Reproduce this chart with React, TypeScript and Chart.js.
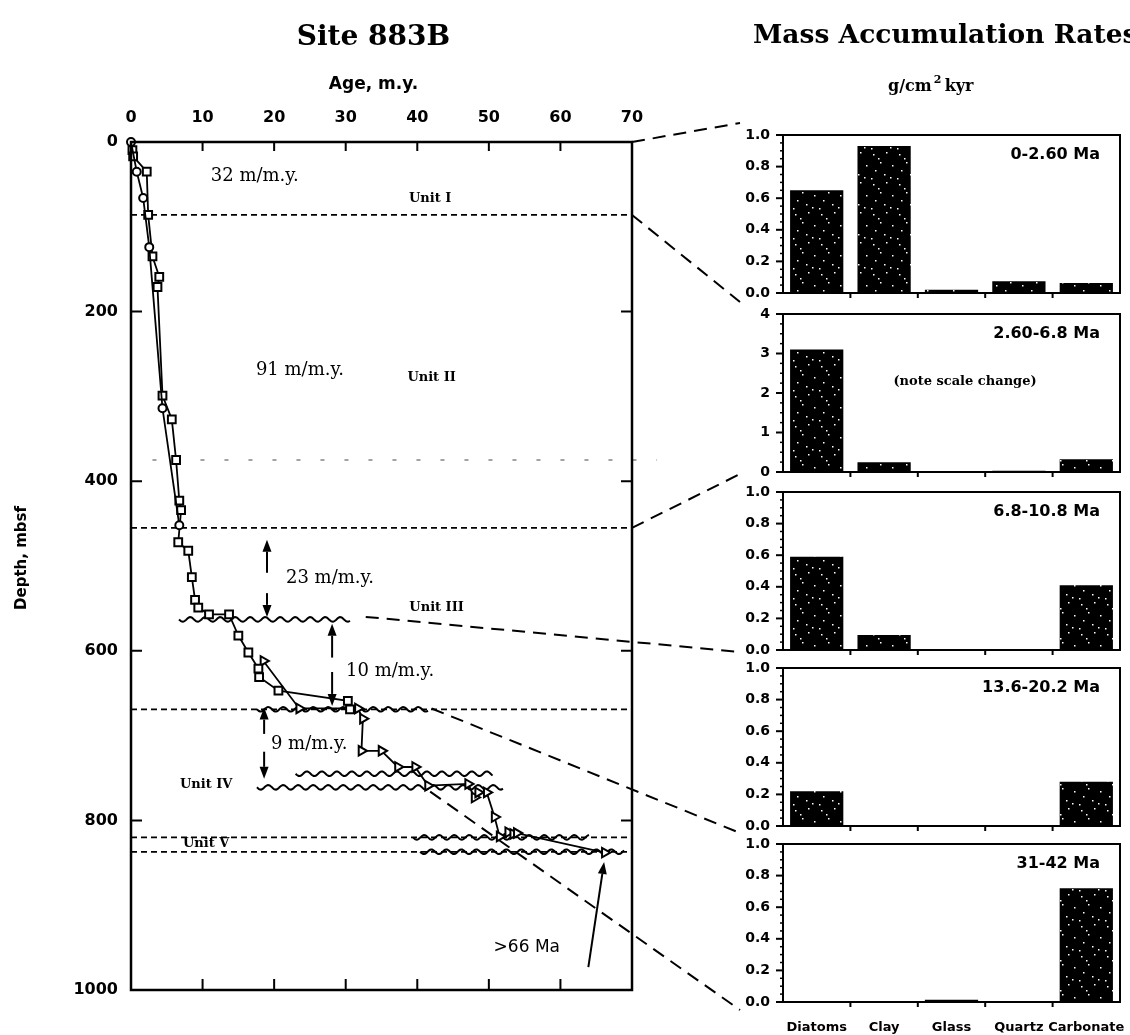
import React, { useEffect, useRef } from 'react';
import { Chart, registerables } from 'chart.js';

Chart.register(...registerables);

// ---- Site 883B age–depth control points (age in m.y., depth in mbsf) ----
const circleAges = [0, 0.8, 1.7, 2.55, 4.4, 6.75];
const circleDepths = [0, 35, 66, 124, 314, 452];

const squareAges = [0.2, 0.3, 2.2, 2.4, 3.0, 3.95, 3.7, 4.4, 5.7, 6.3, 6.75, 7.0, 6.6, 8.0, 8.5, 8.95, 9.4, 10.9, 13.7, 15.0, 16.4, 17.8, 17.9, 20.6, 30.3, 30.6];
const squareDepths = [9.5, 17, 35, 86, 135, 159, 171, 299, 327, 375, 423, 434, 472, 482, 513, 540, 549, 557, 557, 582, 602, 621, 631, 647, 659, 669];

const triangleAges = [18.5, 23.5, 31.7, 32.4, 32.2, 35.0, 37.3, 39.7, 41.5, 47.1, 48.0, 48.5, 49.7, 50.8, 51.5, 52.7, 53.4, 53.9, 66.2];
const triangleDepths = [612, 668, 668, 680, 718, 718, 737, 737, 759, 757, 773, 767, 767, 796, 819, 814, 816, 815, 838];

const ageTicks = [0, 10, 20, 30, 40, 50, 60, 70];
const depthTicks = [0, 200, 400, 600, 800, 1000];

// ---- Mass accumulation rates, g/cm2 kyr ----
const components = ['Diatoms', 'Clay', 'Glass', 'Quartz', 'Carbonate'];
const mar0to260 = [0.65, 0.93, 0.02, 0.075, 0.063];
const mar260to68 = [3.1, 0.25, 0.01, 0.03, 0.32];
const mar68to108 = [0.59, 0.095, 0, 0, 0.41];
const mar136to202 = [0.22, 0.006, 0.005, 0, 0.28];
const mar31to42 = [0, 0, 0.015, 0, 0.72];
const intervalLabels = ['0-2.60 Ma', '2.60-6.8 Ma', '6.8-10.8 Ma', '13.6-20.2 Ma', '31-42 Ma'];
const intervalMax = [1, 4, 1, 1, 1];
const intervalStep = [0.2, 1, 0.2, 0.2, 0.2];

const marSeries = [mar0to260, mar260to68, mar68to108, mar136to202, mar31to42];

// page layout of the small bar panels
const PANEL_LEFT = 740;
const PANEL_AXIS_W = 43;
const PANEL_TOPS = [135, 314, 492, 668, 844];
const PANEL_H = 158;
const PAGE_H = 1035;

const SANS = '"DejaVu Sans"';
const SERIF = '"DejaVu Serif"';

const pts = (ages: number[], depths: number[]) => ages.map((a, k) => ({ x: a, y: depths[k] }));

function wavy(ctx: CanvasRenderingContext2D, x0: number, x1: number, y: number) {
  ctx.beginPath();
  for (let x = x0; x <= x1; x += 1) {
    const yy = y + 2.3 * Math.sin(((x - x0) / 15) * 2 * Math.PI);
    if (x === x0) ctx.moveTo(x, yy);
    else ctx.lineTo(x, yy);
  }
  ctx.stroke();
}

function arrow(ctx: CanvasRenderingContext2D, x0: number, y0: number, x1: number, y1: number) {
  const ang = Math.atan2(y1 - y0, x1 - x0);
  const hl = 12;
  const hw = 4.5;
  const bx = x1 - Math.cos(ang) * hl;
  const by = y1 - Math.sin(ang) * hl;
  ctx.beginPath();
  ctx.moveTo(x0, y0);
  ctx.lineTo(bx, by);
  ctx.stroke();
  ctx.beginPath();
  ctx.moveTo(x1, y1);
  ctx.lineTo(bx + Math.sin(ang) * hw, by - Math.cos(ang) * hw);
  ctx.lineTo(bx - Math.sin(ang) * hw, by + Math.cos(ang) * hw);
  ctx.closePath();
  ctx.fill();
}

// unit boundaries and hiatuses drawn on the age–depth plot
const boundaryLines = [86, 455, 669, 820, 837];
const hiatuses = [
  { a0: 6.7, a1: 30.6, d: 563 },
  { a0: 17.6, a1: 41.6, d: 669 },
  { a0: 23.0, a1: 50.6, d: 745 },
  { a0: 17.6, a1: 52.1, d: 761 },
  { a0: 39.4, a1: 64.1, d: 820 },
  { a0: 40.4, a1: 69.0, d: 837 },
];
const rateNotes = [
  { t: '32 m/m.y.', a: 17.3, d: 40 },
  { t: '91 m/m.y.', a: 23.6, d: 269 },
  { t: '23 m/m.y.', a: 27.8, d: 515 },
  { t: '10 m/m.y.', a: 36.2, d: 624 },
  { t: '9 m/m.y.', a: 24.9, d: 710 },
];
const unitNotes = [
  { t: 'Unit I', a: 41.8, d: 67 },
  { t: 'Unit II', a: 42.0, d: 278 },
  { t: 'Unit III', a: 42.7, d: 549 },
  { t: 'Unit IV', a: 10.5, d: 758 },
  { t: 'Unit V', a: 10.5, d: 827 },
];
const rateArrows = [
  { a: 19.0, d0: 508, d1: 469 },
  { a: 19.0, d0: 532, d1: 560 },
  { a: 28.1, d0: 608, d1: 568 },
  { a: 28.1, d0: 625, d1: 665 },
  { a: 18.6, d0: 698, d1: 667 },
  { a: 18.6, d0: 719, d1: 751 },
];
// links from the age–depth plot to the interval panels
const connectors = [
  { a: 70, d: 0, py: PANEL_TOPS[0] - 12 },
  { a: 70, d: 86, py: PANEL_TOPS[0] + PANEL_H + 9 },
  { a: 70, d: 455, py: PANEL_TOPS[1] + PANEL_H + 2 },
  { a: 32.8, d: 560, py: PANEL_TOPS[2] + PANEL_H + 2 },
  { a: 42.0, d: 668, py: PANEL_TOPS[3] + PANEL_H + 7 },
  { a: 41.8, d: 766, py: PANEL_TOPS[4] + PANEL_H + 8 },
];

const ageDepthDecor = {
  id: 'ageDepthDecor',
  beforeDatasetsDraw(chart: any) {
    const { ctx, chartArea: a, scales } = chart;
    const X = (v: number) => scales.x.getPixelForValue(v);
    const Y = (v: number) => scales.y.getPixelForValue(v);
    ctx.save();
    ctx.strokeStyle = '#000';
    ctx.fillStyle = '#000';

    // faint dotted trace
    ctx.lineWidth = 1;
    ctx.strokeStyle = '#444';
    ctx.setLineDash([4, 20]);
    ctx.beginPath();
    ctx.moveTo(X(3), Y(375));
    ctx.lineTo(a.right + 25, Y(375));
    ctx.stroke();
    ctx.strokeStyle = '#000';

    // unit boundaries
    ctx.lineWidth = 1.8;
    ctx.setLineDash([6, 4]);
    boundaryLines.forEach((d) => {
      ctx.beginPath();
      ctx.moveTo(a.left, Y(d));
      ctx.lineTo(a.right, Y(d));
      ctx.stroke();
    });

    // hiatuses
    ctx.setLineDash([]);
    ctx.lineWidth = 2;
    hiatuses.forEach((h) => wavy(ctx, X(h.a0), X(h.a1), Y(h.d)));

    // links to the interval panels
    ctx.lineWidth = 2;
    ctx.setLineDash([13, 8]);
    connectors.forEach((c) => {
      ctx.beginPath();
      ctx.moveTo(X(c.a), Y(c.d));
      ctx.lineTo(PANEL_LEFT, c.py);
      ctx.stroke();
    });
    ctx.restore();
  },
  afterDraw(chart: any) {
    const { ctx, chartArea: a, scales } = chart;
    const X = (v: number) => scales.x.getPixelForValue(v);
    const Y = (v: number) => scales.y.getPixelForValue(v);
    ctx.save();
    ctx.strokeStyle = '#000';
    ctx.fillStyle = '#000';
    ctx.setLineDash([]);

    // frame and inward ticks
    ctx.lineWidth = 2.5;
    ctx.strokeRect(a.left, a.top, a.right - a.left, a.bottom - a.top);
    ctx.lineWidth = 2;
    ageTicks.slice(1, -1).forEach((v) => {
      ctx.beginPath();
      ctx.moveTo(X(v), a.top);
      ctx.lineTo(X(v), a.top + 9);
      ctx.moveTo(X(v), a.bottom);
      ctx.lineTo(X(v), a.bottom - 11);
      ctx.stroke();
    });
    depthTicks.slice(1, -1).forEach((v) => {
      ctx.beginPath();
      ctx.moveTo(a.left, Y(v));
      ctx.lineTo(a.left + 11, Y(v));
      ctx.moveTo(a.right, Y(v));
      ctx.lineTo(a.right - 11, Y(v));
      ctx.stroke();
    });

    // rate arrows
    ctx.lineWidth = 2;
    rateArrows.forEach((r) => arrow(ctx, X(r.a), Y(r.d0), X(r.a), Y(r.d1)));
    arrow(ctx, X(63.9), Y(973), X(66.1), Y(849));

    // labels
    ctx.textAlign = 'center';
    ctx.textBaseline = 'middle';
    ctx.font = `18px ${SERIF}`;
    rateNotes.forEach((n) => ctx.fillText(n.t, X(n.a), Y(n.d)));
    ctx.font = `bold 13px ${SERIF}`;
    unitNotes.forEach((n) => ctx.fillText(n.t, X(n.a), Y(n.d)));
    ctx.font = `17px ${SANS}`;
    ctx.fillText('>66 Ma', X(55.3), Y(950));

    // titles
    const cx = (a.left + a.right) / 2 - 8;
    ctx.font = `bold 28px ${SERIF}`;
    ctx.fillText('Site 883B', cx, 38);
    ctx.font = `bold 17px ${SANS}`;
    ctx.fillText('Age, m.y.', cx, 85);
    ctx.save();
    ctx.translate(22, (a.top + a.bottom) / 2 - 8);
    ctx.rotate(-Math.PI / 2);
    ctx.font = `bold 15px ${SANS}`;
    ctx.fillText('Depth, mbsf', 0, 0);
    ctx.restore();
    ctx.restore();
  },
};

function panelDecor(i: number) {
  return {
    id: 'panelDecor' + i,
    afterDraw(chart: any) {
      const { ctx, chartArea: a, scales } = chart;
      ctx.save();
      ctx.strokeStyle = '#000';
      ctx.fillStyle = '#000';
      ctx.lineWidth = 2;
      ctx.strokeRect(a.left, a.top, a.right - a.left, a.bottom - a.top);

      const y = scales.y;
      const step = intervalStep[i];
      const minor = step / 4;
      const n = Math.round(intervalMax[i] / minor);
      for (let k = 0; k <= n; k++) {
        const py = y.getPixelForValue(k * minor);
        const major = k % 4 === 0;
        ctx.lineWidth = major ? 2 : 1.5;
        ctx.beginPath();
        ctx.moveTo(a.left - (major ? 7 : 3), py);
        ctx.lineTo(a.left, py);
        ctx.stroke();
      }
      const x = scales.x;
      ctx.lineWidth = 2;
      for (let k = 1; k < components.length; k++) {
        const px = (x.getPixelForValue(k - 1) + x.getPixelForValue(k)) / 2;
        ctx.beginPath();
        ctx.moveTo(px, a.bottom);
        ctx.lineTo(px, a.bottom + 5);
        ctx.stroke();
      }

      ctx.textAlign = 'right';
      ctx.textBaseline = 'middle';
      ctx.font = `bold 16px ${SANS}`;
      ctx.fillText(intervalLabels[i], a.right - 20, a.top + 20);

      if (i === 1) {
        ctx.textAlign = 'center';
        ctx.font = `bold 13px ${SERIF}`;
        ctx.fillText('(note scale change)', a.left + 182, a.top + 68);
      }
      if (i === 0) {
        ctx.textAlign = 'left';
        ctx.font = `bold 26.5px ${SERIF}`;
        ctx.fillText('Mass Accumulation Rates', 13, 36);
        ctx.font = `bold 16px ${SERIF}`;
        const x0 = 148;
        ctx.fillText('g/cm', x0, 87);
        const w1 = ctx.measureText('g/cm').width;
        ctx.font = `bold 11px ${SERIF}`;
        ctx.fillText('2', x0 + w1 + 2, 80);
        ctx.font = `bold 16px ${SERIF}`;
        ctx.fillText('kyr', x0 + w1 + 13, 87);
      }
      ctx.restore();
    },
  };
}

function makeStipple(): CanvasPattern | string {
  const c = document.createElement('canvas');
  c.width = 26;
  c.height = 30;
  const g = c.getContext('2d');
  if (!g) return '#000';
  g.fillStyle = '#000';
  g.fillRect(0, 0, 26, 30);
  g.fillStyle = '#fff';
  const dots = [
    [3, 4], [16, 2], [10, 12], [22, 15], [5, 20], [14, 24], [20, 27], [1, 28], [8, 8],
  ];
  dots.forEach(([dx, dy]) => g.fillRect(dx, dy, 1.5, 1.5));
  return g.createPattern(c, 'repeat') || '#000';
}

function panelGeom(i: number) {
  const top = i === 0 ? 0 : PANEL_TOPS[i] - 12;
  const padTop = PANEL_TOPS[i] - top;
  const last = i === PANEL_TOPS.length - 1;
  const h = last ? PAGE_H - top : padTop + PANEL_H + 10;
  return { top, padTop, h, last };
}

export default function App() {
  const leftRef = useRef<HTMLCanvasElement>(null);
  const panelRefs = useRef<(HTMLCanvasElement | null)[]>([]);

  useEffect(() => {
    const charts: Chart[] = [];
    const tickFont = { family: 'DejaVu Sans', weight: 'bold' as const, size: 16 };

    if (leftRef.current) {
      charts.push(
        new Chart(leftRef.current, {
          type: 'scatter',
          data: {
            datasets: [
              {
                data: pts(circleAges, circleDepths),
                showLine: true,
                borderColor: '#000',
                borderWidth: 1.8,
                pointStyle: 'circle',
                pointRadius: 4,
                pointBorderWidth: 2,
                pointBackgroundColor: '#fff',
                pointBorderColor: '#000',
                clip: false,
              },
              {
                data: pts(squareAges, squareDepths),
                showLine: true,
                borderColor: '#000',
                borderWidth: 1.8,
                pointStyle: 'rect',
                pointRadius: 5.5,
                pointBorderWidth: 2,
                pointBackgroundColor: '#fff',
                pointBorderColor: '#000',
                clip: false,
              },
              {
                data: pts(triangleAges, triangleDepths),
                showLine: true,
                borderColor: '#000',
                borderWidth: 1.8,
                pointStyle: 'triangle',
                pointRotation: 90,
                pointRadius: 5.5,
                pointBorderWidth: 2,
                pointBackgroundColor: '#fff',
                pointBorderColor: '#000',
                clip: false,
              },
            ],
          },
          options: {
            animation: false,
            responsive: false,
            maintainAspectRatio: false,
            layout: { autoPadding: false, padding: { left: 0, top: 0, right: 113, bottom: 45 } },
            plugins: { legend: { display: false }, tooltip: { enabled: false } },
            scales: {
              x: {
                type: 'linear',
                position: 'top',
                min: 0,
                max: 70,
                grid: { display: false, drawTicks: false },
                border: { display: false },
                ticks: { stepSize: 10, padding: 15, color: '#000', font: tickFont },
                afterFit: (s: any) => { s.height = 142; s.paddingLeft = 0; s.paddingRight = 0; },
              },
              y: {
                type: 'linear',
                reverse: true,
                min: 0,
                max: 1000,
                grid: { display: false, drawTicks: false },
                border: { display: false },
                ticks: {
                  stepSize: 200,
                  padding: 13,
                  color: '#000',
                  font: tickFont,
                  callback: (v: any) => String(v),
                },
                afterFit: (s: any) => { s.width = 131; s.paddingTop = 0; s.paddingBottom = 0; },
              },
            },
          },
          plugins: [ageDepthDecor],
        } as any)
      );
    }

    const stipple = makeStipple();
    marSeries.forEach((vals, i) => {
      const el = panelRefs.current[i];
      if (!el) return;
      const g = panelGeom(i);
      charts.push(
        new Chart(el, {
          type: 'bar',
          data: {
            labels: components,
            datasets: [
              {
                data: vals,
                backgroundColor: stipple,
                borderWidth: 0,
                barPercentage: 0.79,
                categoryPercentage: 1,
              },
            ],
          },
          options: {
            animation: false,
            responsive: false,
            maintainAspectRatio: false,
            layout: { autoPadding: false, padding: { top: g.padTop, right: 10, bottom: g.last ? 0 : 10, left: 0 } },
            plugins: { legend: { display: false }, tooltip: { enabled: false } },
            scales: {
              x: {
                display: g.last,
                grid: { display: false, drawTicks: false },
                border: { display: false },
                ticks: {
                  autoSkip: false,
                  maxRotation: 0,
                  padding: 18,
                  color: '#000',
                  font: { family: 'DejaVu Sans', weight: 'bold', size: 13 },
                },
                afterFit: (s: any) => {
                  s.height = g.last ? PAGE_H - PANEL_TOPS[i] - PANEL_H : 0;
                  s.paddingLeft = 0;
                  s.paddingRight = 0;
                },
              },
              y: {
                min: 0,
                max: intervalMax[i],
                grid: { display: false, drawTicks: false },
                border: { display: false },
                ticks: {
                  stepSize: intervalStep[i],
                  padding: 13,
                  color: '#000',
                  font: { family: 'DejaVu Sans', weight: 'bold', size: 14 },
                  callback: (v: any) => (intervalStep[i] >= 1 ? String(Math.round(Number(v))) : Number(v).toFixed(1)),
                },
                afterFit: (s: any) => { s.width = PANEL_AXIS_W; s.paddingTop = 0; s.paddingBottom = 0; },
              },
            },
          },
          plugins: [panelDecor(i)],
        } as any)
      );
    });

    return () => charts.forEach((c) => c.destroy());
  }, []);

  return (
    <div style={{ position: 'absolute', left: 0, top: 0, width: 1130, height: PAGE_H, background: '#fff', overflow: 'hidden' }}>
      <canvas ref={leftRef} width={745} height={PAGE_H} style={{ position: 'absolute', left: 0, top: 0 }} />
      {marSeries.map((_, i) => {
        const g = panelGeom(i);
        return (
          <canvas
            key={i}
            ref={(el) => { panelRefs.current[i] = el; }}
            width={390}
            height={g.h}
            style={{ position: 'absolute', left: PANEL_LEFT, top: g.top }}
          />
        );
      })}
    </div>
  );
}
